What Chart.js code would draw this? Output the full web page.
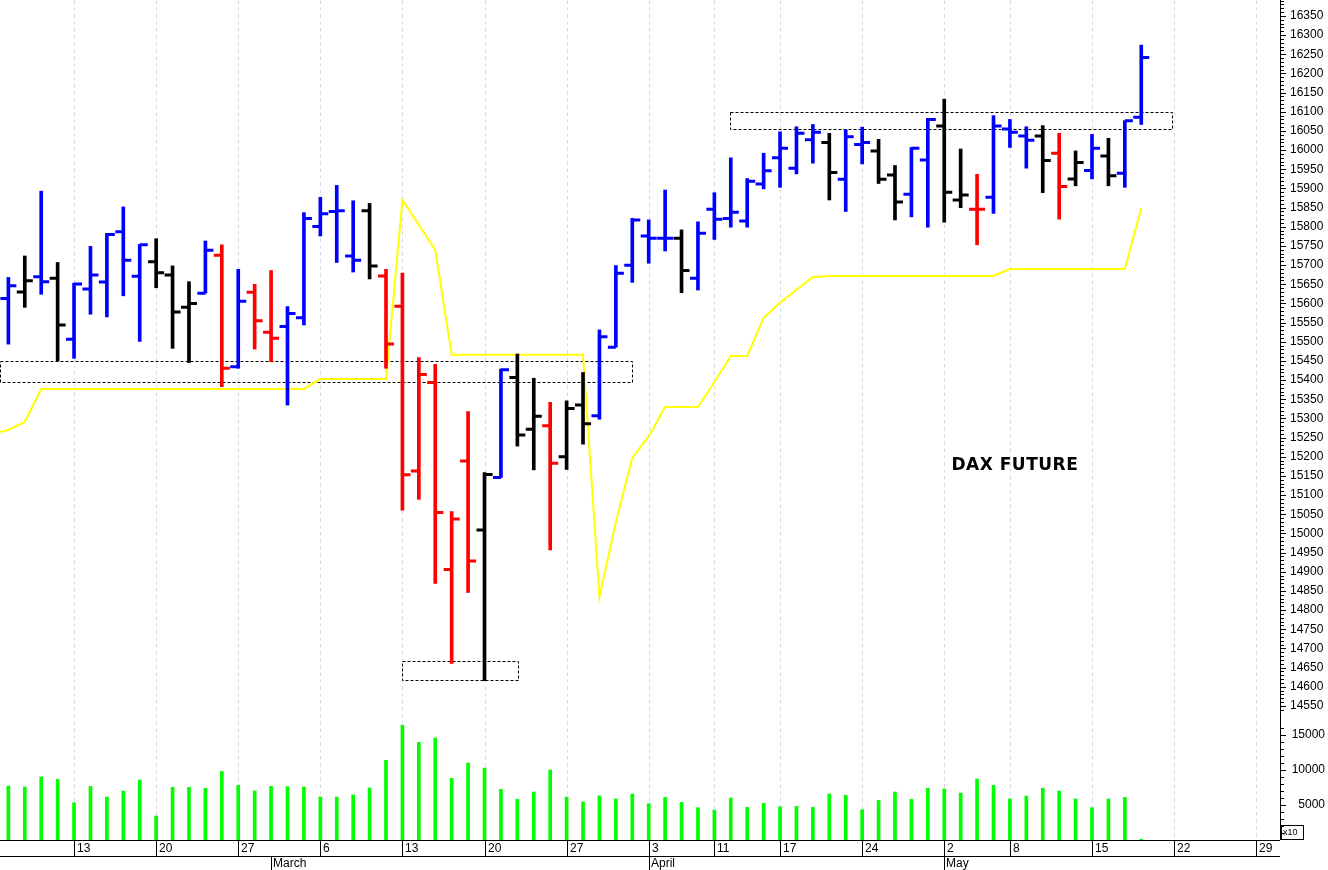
<!DOCTYPE html>
<html><head><meta charset="utf-8">
<script src="https://cdn.jsdelivr.net/npm/chart.js@4"></script>
<style>html,body{margin:0;padding:0;background:#fff}#wrap{width:1328px;height:870px}</style>
</head><body><div id="wrap"><canvas id="c" width="1328" height="870"></canvas></div>
<script>
const dates = ["Feb 7","Feb 8","Feb 9","Feb 10","Feb 13","Feb 14","Feb 15","Feb 16","Feb 17","Feb 20","Feb 21","Feb 22","Feb 23","Feb 24","Feb 27","Feb 28","Mar 1","Mar 2","Mar 3","Mar 6","Mar 7","Mar 8","Mar 9","Mar 10","Mar 13","Mar 14","Mar 15","Mar 16","Mar 17","Mar 20","Mar 21","Mar 22","Mar 23","Mar 24","Mar 27","Mar 28","Mar 29","Mar 30","Mar 31","Apr 3","Apr 4","Apr 5","Apr 6","Apr 11","Apr 12","Apr 13","Apr 14","Apr 17","Apr 18","Apr 19","Apr 20","Apr 21","Apr 24","Apr 25","Apr 26","Apr 27","Apr 28","May 2","May 3","May 4","May 5","May 8","May 9","May 10","May 11","May 12","May 15","May 16","May 17","May 18"];
const opens  = [15613,15630,15670,15666,15507,15638,15656,15787,15671,15709,15674,15590,15627,15726,15435,15629,15525,15540,15563,15801,15840,15724,15842,15672,15593,15163,15394,14906,15189,15009,15146,15407,15272,15281,15200,15335,15307,15486,15700,15776,15770,15770,15666,15846,15822,15815,15912,15980,15953,16027,16020,15924,16015,15998,15935,15885,15974,16063,15870,15846,15877,16055,16037,16037,15992,15925,15947,15985,15940,16086];
const highs  = [15668,15724,15893,15707,15653,15749,15783,15852,15754,15769,15698,15657,15763,15753,15689,15650,15686,15592,15837,15877,15908,15868,15861,15689,15679,15459,15441,15057,15318,15159,15429,15468,15405,15342,15346,15420,15531,15699,15822,15818,15896,15792,15813,15889,15980,15926,15992,16048,16061,16067,16044,16053,16060,16028,15960,16007,16083,16133,16003,15937,16090,16080,16061,16064,16044,15998,16041,16031,16077,16274];
const lows   = [15494,15590,15624,15450,15457,15572,15565,15620,15501,15641,15483,15446,15627,15383,15431,15481,15448,15335,15544,15776,15707,15682,15664,15431,15061,15089,14870,14661,14846,14616,15146,15228,15166,14957,15167,15233,15298,15486,15655,15705,15737,15628,15635,15767,15799,15799,15899,15903,15938,15966,15870,15840,15964,15913,15818,15826,15799,15812,15850,15753,15835,16007,15953,15889,15820,15907,15925,15907,15903,16067];
const closes = [15646,15659,15657,15544,15651,15674,15780,15713,15753,15680,15578,15600,15739,15431,15606,15555,15509,15574,15822,15834,15842,15713,15698,15494,15153,15415,15055,15038,14928,15154,15427,15257,15306,15183,15326,15286,15513,15679,15818,15770,15770,15686,15783,15820,15838,15919,15946,16005,16044,16047,15942,16035,16020,15924,15865,16005,16080,15890,15883,15846,16063,16047,16026,15973,15905,15968,16005,15933,16077,16242];
const barColors = "BKBKBBBBBKKKBRBRRBBBBBKRRRRRRKBKKRKKBBBBBKBBBBBBBBKBBKKBBKKRBBBKRKBKBB";
const volumes = [7710,7570,9000,8660,5330,7660,6140,7000,8570,3430,7520,7520,7380,9800,7800,7000,7660,7620,7570,6140,6140,6430,7430,11380,16380,13950,14570,8810,11000,10280,7240,5810,6860,10000,6140,5430,6290,5860,6570,5190,6090,5380,4620,4280,6000,4670,5240,4760,4810,4670,6570,6380,4330,5660,6860,5810,7380,7280,6710,8710,7800,5860,6280,7380,7000,5860,4620,5860,6090,100];
const trendLine = [15270,15291,15377,15377,15377,15377,15377,15377,15377,15377,15377,15377,15377,15377,15377,15377,15377,15377,15377,15403,15403,15403,15403,15403,15870,15805,15740,15466,15466,15466,15466,15466,15466,15466,15466,15466,14835,15030,15197,15254,15330,15330,15330,15395,15463,15463,15563,15602,15636,15669,15672,15672,15672,15672,15672,15672,15672,15672,15672,15672,15672,15690,15690,15690,15690,15690,15690,15690,15690,15849];
const trendStart = 15265;
const dayTicks = [[4,"13"],[9,"20"],[14,"27"],[19,"6"],[24,"13"],[29,"20"],[34,"27"],[39,"3"],[43,"11"],[47,"17"],[52,"24"],[57,"2"],[61,"8"],[66,"15"],[71,"22"],[76,"29"]];
const monthTicks = [[16,"March"],[39,"April"],[57,"May"]];
const priceTicks = [14550,14600,14650,14700,14750,14800,14850,14900,14950,15000,15050,15100,15150,15200,15250,15300,15350,15400,15450,15500,15550,15600,15650,15700,15750,15800,15850,15900,15950,16000,16050,16100,16150,16200,16250,16300,16350];
const volumeTicks = [5000,10000,15000];
const boxes = [[-1,38,15395,15450],[23.95,31,14618,14667],[43.95,70.9,16055,16100]];
const title = "DAX FUTURE";

const colorMap = {B:"#0000ff",K:"#000000",R:"#ff0000"};
const idx = dates.map((d,i)=>i);

const overlay = {
  id:'overlay',
  beforeDatasetsDraw(chart){
    const {ctx, chartArea:a, scales:{x,y}} = chart;
    ctx.save();
    ctx.strokeStyle = '#d8dbea'; ctx.lineWidth = 1; ctx.setLineDash([4,3]);
    dayTicks.forEach(([i])=>{const px=Math.round(x.getPixelForValue(i))+0.5;ctx.beginPath();ctx.moveTo(px,a.top);ctx.lineTo(px,a.bottom);ctx.stroke();});
    ctx.strokeStyle='#000'; ctx.setLineDash([3,2]);
    boxes.forEach(([i0,i1,lo,hi])=>{
      const x0=Math.max(x.getPixelForValue(i0),a.left), x1=x.getPixelForValue(i1);
      const y0=y.getPixelForValue(hi), y1=y.getPixelForValue(lo);
      ctx.strokeRect(Math.round(x0)+0.5,Math.round(y0)+0.5,Math.round(x1-x0),Math.round(y1-y0));
    });
    ctx.restore();
  },
  afterDatasetsDraw(chart){
    const {ctx, chartArea:a, scales:{x,y,yv}} = chart;
    ctx.save();
    ctx.lineWidth = 3; ctx.lineCap='butt';
    idx.forEach(i=>{
      const px=x.getPixelForValue(i);
      ctx.strokeStyle=colorMap[barColors[i]];
      let yo=y.getPixelForValue(opens[i]), yc=y.getPixelForValue(closes[i]);
      ctx.beginPath();ctx.moveTo(px-8,yo);ctx.lineTo(px,yo);ctx.moveTo(px,yc);ctx.lineTo(px+8,yc);ctx.stroke();
    });
    ctx.fillStyle='#000'; ctx.font='bold 17px "DejaVu Sans", sans-serif'; ctx.textAlign='center'; ctx.textBaseline='middle';
    if (ctx.letterSpacing!==undefined) ctx.letterSpacing='0.5px';
    ctx.fillText(title, x.getPixelForValue(61.3), y.getPixelForValue(15176));
    if (ctx.letterSpacing!==undefined) ctx.letterSpacing='0px';
    const R=a.right;
    ctx.lineWidth=1; ctx.strokeStyle='#000';
    ctx.beginPath();ctx.moveTo(R+0.5,0);ctx.lineTo(R+0.5,a.bottom);ctx.stroke();
    ctx.font='12px "Liberation Sans", Arial, sans-serif'; ctx.textAlign='left'; ctx.textBaseline='middle';
    ctx.beginPath();
    for(let p=14540;p<=16390;p+=10){const py=Math.round(y.getPixelForValue(p))+0.5;if(py<0)continue;const major=p%50===0;ctx.moveTo(R,py);ctx.lineTo(R+(major?6:4),py);}
    for(let v=1000;v<=16000;v+=1000){const py=Math.round(yv.getPixelForValue(v))+0.5;const major=v%5000===0;ctx.moveTo(R,py);ctx.lineTo(R+(major?6:4),py);}
    ctx.stroke();
    priceTicks.forEach(p=>ctx.fillText(String(p),R+10,y.getPixelForValue(p)));
    ctx.textAlign='right';
    volumeTicks.forEach(v=>ctx.fillText(String(v),1325,yv.getPixelForValue(v)));
    ctx.strokeRect(R+1.5,a.bottom-14.5,22,14);
    ctx.font='9px "Liberation Sans", Arial, sans-serif'; ctx.textAlign='left';
    ctx.fillText('x10',R+3,a.bottom-7);
    ctx.beginPath();
    ctx.moveTo(0,a.bottom+0.5);ctx.lineTo(R,a.bottom+0.5);
    ctx.moveTo(0,a.bottom+16.5);ctx.lineTo(R,a.bottom+16.5);
    dayTicks.forEach(([i])=>{const px=Math.round(x.getPixelForValue(i))+0.5;ctx.moveTo(px,a.bottom);ctx.lineTo(px,a.bottom+16);});
    monthTicks.forEach(([i])=>{const px=Math.round(x.getPixelForValue(i))+0.5;ctx.moveTo(px,a.bottom+16);ctx.lineTo(px,870);});
    ctx.stroke();
    ctx.font='12px "Liberation Sans", Arial, sans-serif'; ctx.textBaseline='middle';
    dayTicks.forEach(([i,t])=>ctx.fillText(t,Math.round(x.getPixelForValue(i))+3,a.bottom+9));
    monthTicks.forEach(([i,t])=>ctx.fillText(t,Math.round(x.getPixelForValue(i))+2,a.bottom+24));
    ctx.restore();
  }
};

const trendData = [{x:-0.51,y:trendStart}].concat(idx.map(i=>({x:i,y:trendLine[i]})));

new Chart(document.getElementById('c'),{
  type:'bar',
  data:{datasets:[
    {type:'line',data:trendData,borderColor:'#ffff00',borderWidth:2,pointRadius:0,yAxisID:'y',tension:0,order:1},
    {type:'bar',data:idx.map(i=>({x:i,y:[lows[i],highs[i]]})),backgroundColor:idx.map(i=>colorMap[barColors[i]]),barThickness:3,grouped:false,yAxisID:'y',order:0},
    {type:'bar',data:idx.map(i=>({x:i,y:volumes[i]})),backgroundColor:'#00ff00',barThickness:3,grouped:false,yAxisID:'yv',order:2}
  ]},
  options:{
    responsive:false,animation:false,
    layout:{padding:{left:0,right:48,top:0,bottom:30}},
    plugins:{legend:{display:false},tooltip:{enabled:false}},
    scales:{
      x:{type:'linear',min:-0.51,max:77.45,offset:false,display:false},
      y:{min:14200.4,max:16391.7,display:false},
      yv:{min:0,max:120000,display:false}
    }
  },
  plugins:[overlay]
});
</script></body></html>
